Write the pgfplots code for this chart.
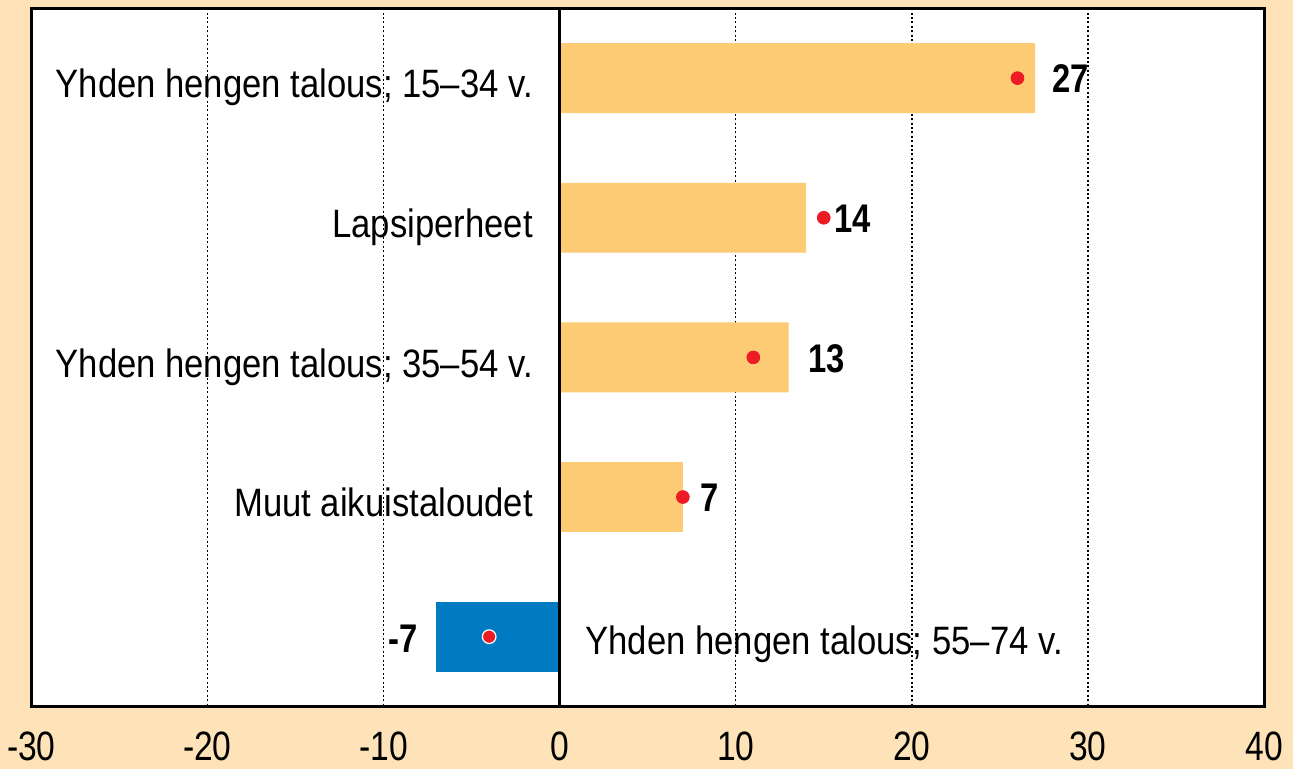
\documentclass[border=0pt]{standalone}
\usepackage{pgfplots}
\pgfplotsset{compat=1.18}
\usepackage{fontspec}
\setmainfont{Liberation Sans}[FakeStretch=0.82]
\newfontfamily\catfont{Liberation Sans}[FakeStretch=0.875]
\definecolor{bgpeach}{HTML}{FEE3B8}
\definecolor{barorange}{HTML}{FDCB74}
\definecolor{barblue}{HTML}{007BC2}
\definecolor{dotred}{HTML}{ED1C24}
\begin{document}
\begin{tikzpicture}
\useasboundingbox (0,0) rectangle (646.5pt,384.5pt);
\fill[bgpeach] (0,0) rectangle (646.5pt,384.5pt);
\begin{axis}[
 at={(15.65pt,31.25pt)}, anchor=south west,
 scale only axis, width=616.35pt, height=349.1pt,
 xmin=-30, xmax=40, ymin=0.5, ymax=5.5, y dir=reverse,
 axis background/.style={fill=white},
 axis line style={line width=1.5pt, black},
 xtick={-30,-20,-10,0,10,20,30,40},
 xticklabels={-30,-20,-10,0,10,20,30,40},
 ytick=\empty,
 major tick length=0pt,
 xmajorgrids, grid style={black, line width=0.7pt, dash pattern=on 1pt off 1.2pt},
 xticklabel style={font=\fontsize{20.5}{24}\selectfont, inner sep=0pt, anchor=north},
 xticklabel shift=12.5pt,
 clip=false,
]
\addplot[xbar, bar width=0.5, bar shift=0pt, fill=barorange, draw=none] coordinates {(27,1) (14,2) (13,3) (7,4)};
\addplot[xbar, bar width=0.5, bar shift=0pt, fill=barblue, draw=none] coordinates {(-7,5)};
\addplot[black, line width=1.5pt] coordinates {(0,0.5) (0,5.5)};
\addplot[only marks, color=dotred, mark=*, mark size=3.2pt, mark options={fill=dotred, draw=none}] coordinates {(26,1) (15,2) (11,3) (7,4)};
\addplot[only marks, color=dotred, mark=*, mark size=3.4pt, mark options={fill=dotred, draw=white, line width=0.6pt}] coordinates {(-4,5)};
% category labels
\begin{scope}[every node/.style={font=\catfont\fontsize{19.8}{22}\selectfont, inner sep=0pt}]
\node[anchor=base east, yshift=-9.85pt] at (axis cs:-1.5,1) {Yhden hengen talous; 15–34 v.};
\node[anchor=base east, yshift=-9.85pt] at (axis cs:-1.5,2) {Lapsiperheet};
\node[anchor=base east, yshift=-9.85pt] at (axis cs:-1.5,3) {Yhden hengen talous; 35–54 v.};
\node[anchor=base east, yshift=-9.85pt] at (axis cs:-1.5,4) {Muut aikuistaloudet};
\node[anchor=base west, yshift=-9pt] at (axis cs:1.45,5) {Yhden hengen talous; 55–74 v.};
\end{scope}
% value labels
\begin{scope}[every node/.style={font=\fontsize{20}{22}\bfseries}]
\node[anchor=base west, inner sep=0pt, yshift=-7.4pt] at (axis cs:27.97,1) {27};
\node[anchor=base west, inner sep=0pt, yshift=-7.4pt] at (axis cs:15.6,2) {14};
\node[anchor=base west, inner sep=0pt, yshift=-7.4pt] at (axis cs:14.1,3) {13};
\node[anchor=base west, inner sep=0pt, yshift=-7.4pt] at (axis cs:8.0,4) {7};
\node[anchor=base east, inner sep=0pt, yshift=-8pt] at (axis cs:-8.03,5) {-7};
\end{scope}
\end{axis}
\end{tikzpicture}
\end{document}
